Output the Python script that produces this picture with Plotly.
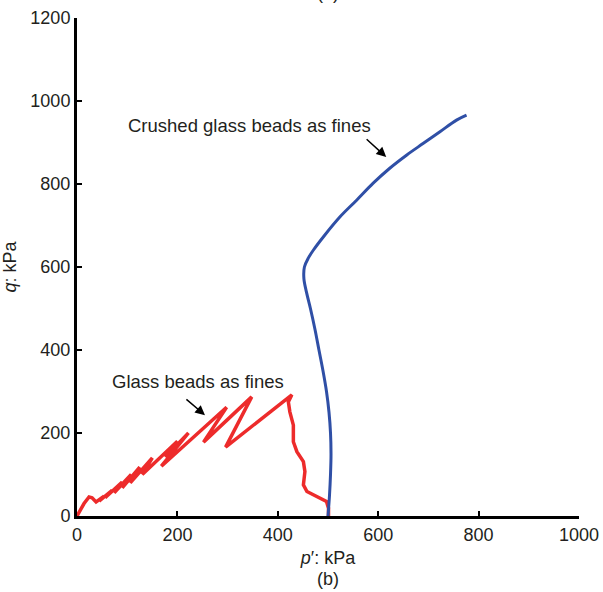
import plotly.graph_objects as go

# Crushed glass beads as fines (blue)
blue_p = [500, 503, 505, 506, 505, 502, 497, 490, 482, 474, 465, 457, 452, 453, 461, 471, 491, 524, 557, 590, 623, 657, 690, 723, 756, 776]
blue_q = [0, 50, 100, 150, 200, 250, 300, 350, 400, 450, 500, 540, 572, 600, 622, 641, 673, 721, 761, 802, 838, 870, 898, 926, 954, 966]

# Glass beads as fines (red)
red_p = [501, 501, 497, 477, 458, 451, 454, 451, 438, 431, 431, 424, 421, 428,
         296, 348, 252, 298, 168, 222, 176, 200, 130, 150, 106, 125, 90, 108,
         74, 90, 56, 70, 44, 54, 38, 30, 24, 14, 0]
red_q = [0, 19, 35, 47, 59, 75, 107, 131, 155, 179, 219, 251, 275, 292,
         166, 287, 178, 262, 120, 200, 142, 180, 100, 140, 80, 118, 68, 100,
         56, 82, 44, 62, 36, 48, 34, 44, 46, 30, 0]

x_ticks = [0, 200, 400, 600, 800, 1000]
y_ticks = [0, 200, 400, 600, 800, 1000, 1200]

FONT = "Liberation Sans, Arial, sans-serif"
TXT = "#231F20"

fig = go.Figure()
fig.add_trace(go.Scatter(x=red_p, y=red_q, mode="lines",
                         line=dict(color="#ED2B2B", width=3.5), cliponaxis=False,
                         showlegend=False))
fig.add_trace(go.Scatter(x=blue_p, y=blue_q, mode="lines",
                         line=dict(color="#2F4FA6", width=3, shape="spline", smoothing=1),
                         cliponaxis=False, showlegend=False))

fig.add_annotation(x=343, y=942, text="Crushed glass beads as fines", showarrow=False,
                   font=dict(size=18.5, color=TXT, family=FONT))
fig.add_annotation(x=616, y=865, ax=574, ay=911, axref="x", ayref="y", text="",
                   showarrow=True, arrowhead=2, arrowsize=1.3, arrowwidth=1.5, arrowcolor="black")
fig.add_annotation(x=241, y=325, text="Glass beads as fines", showarrow=False,
                   font=dict(size=18.5, color=TXT, family=FONT))
fig.add_annotation(x=255, y=243, ax=215, ay=284, axref="x", ayref="y", text="",
                   showarrow=True, arrowhead=2, arrowsize=1.3, arrowwidth=1.5, arrowcolor="black")
fig.add_annotation(x=0.5, y=0, xref="paper", yref="paper", yanchor="middle", yshift=-63,
                   text="(b)", showarrow=False, font=dict(size=18, color=TXT, family=FONT))
fig.add_annotation(x=0.5, y=1, xref="paper", yref="paper", yanchor="bottom", yshift=13,
                   text="(a)", showarrow=False, font=dict(size=18, color=TXT, family=FONT))

fig.update_layout(
    width=603, height=592,
    margin=dict(l=77, r=24, t=18, b=76),
    paper_bgcolor="white", plot_bgcolor="white",
    font=dict(family=FONT, size=18, color=TXT),
    xaxis=dict(range=[0, 1000], tickvals=x_ticks, ticks="inside", ticklen=5, tickwidth=2,
               tickcolor="black", showline=True, linecolor="black", linewidth=3,
               showgrid=False, zeroline=False, automargin=False,
               title=dict(text="<i>p</i>′: kPa", font=dict(size=18), standoff=8)),
    yaxis=dict(range=[0, 1200], tickvals=y_ticks, ticks="inside", ticklen=5, tickwidth=2,
               tickcolor="black", showline=True, linecolor="black", linewidth=3,
               showgrid=False, zeroline=False, automargin=False,
               title=dict(text="<i>q</i>: kPa", font=dict(size=18), standoff=10)),
)

fig.write_html("out.html")
